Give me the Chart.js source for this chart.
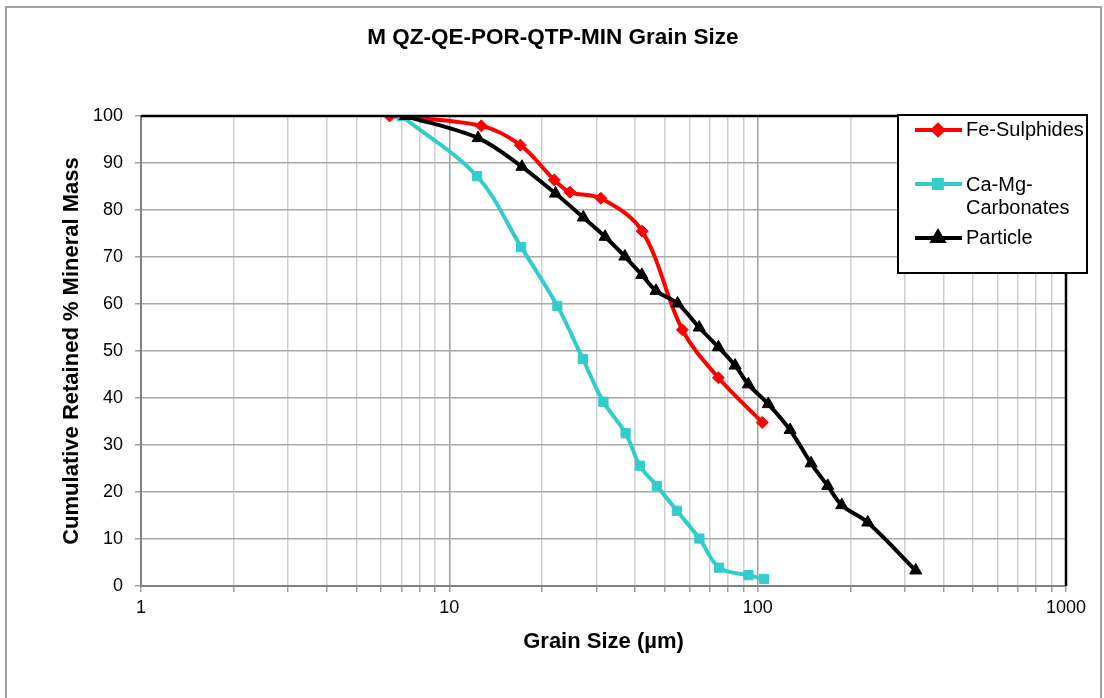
<!DOCTYPE html>
<html>
<head>
<meta charset="utf-8">
<script src="https://cdn.jsdelivr.net/npm/chart.js@4"></script>
<style>
    html, body { margin: 0; padding: 0; background: #ffffff; }
    #grafico { display: block; }
</style>
</head>
<body>
<canvas id="grafico" width="1104" height="698"></canvas>
<script>
// valores (x = tamanho de grão em µm, y = % retida acumulada)
const feSulphidesX = [6.4, 12.7, 17.0, 21.9, 24.6, 31.0, 42.2, 57.0, 74.6, 103.5];
const feSulphidesY = [100, 97.9, 93.8, 86.4, 83.8, 82.5, 75.5, 54.5, 44.3, 34.8];

const carbonatesX = [7.0, 12.3, 17.1, 22.4, 27.1, 31.6, 37.3, 41.5, 47.1, 54.7, 64.7, 75.0, 93.3, 104.9];
const carbonatesY = [100, 87.2, 72.1, 59.6, 48.3, 39.2, 32.5, 25.6, 21.3, 16.0, 10.1, 3.9, 2.3, 1.5];

const particleX = [7.2, 12.4, 17.2, 22.1, 27.2, 32.0, 37.1, 42.1, 46.8, 55.0, 64.6, 74.6, 84.5, 93.3, 108.3, 127.4, 149, 168.8, 187.4, 227.6, 325.6];
const particleY = [100, 95.3, 89.2, 83.5, 78.4, 74.3, 70.1, 66.2, 62.8, 60.1, 55.0, 50.8, 46.9, 42.9, 38.7, 33.2, 26.1, 21.3, 17.2, 13.5, 3.3];

const xTickLabels = [1, 10, 100, 1000];
const yTickLabels = [0, 10, 20, 30, 40, 50, 60, 70, 80, 90, 100];

const titulo = "M QZ-QE-POR-QTP-MIN Grain Size";
const fonte = '"Liberation Sans", Arial, sans-serif';

function pontos(xs, ys) {
    return xs.map((x, i) => ({ x: x, y: ys[i] }));
}

function ehPotencia10(v) {
    const l = Math.log10(v);
    return Math.abs(l - Math.round(l)) < 1e-9;
}

const series = [
    { label: "Fe-Sulphides", cor: "#ff0000", estilo: "rectRot", raio: 6, data: pontos(feSulphidesX, feSulphidesY), ordem: 2 },
    { label: "Ca-Mg-Carbonates", cor: "#33cccc", estilo: "rect", raio: 6.5, data: pontos(carbonatesX, carbonatesY), ordem: 1 },
    { label: "Particle", cor: "#000000", estilo: "triangle", raio: 7, data: pontos(particleX, particleY), ordem: 0 }
];

// moldura externa, fundo e título
const moldura = {
    id: "moldura",
    beforeDraw(chart) {
        const ctx = chart.ctx;
        ctx.save();
        ctx.fillStyle = "#ffffff";
        ctx.fillRect(0, 0, chart.width, chart.height);
        ctx.strokeStyle = "#a0a0a0";
        ctx.lineWidth = 2;
        ctx.strokeRect(6, 7, 1095, 700);

        ctx.fillStyle = "#000000";
        ctx.font = "bold 22.5px " + fonte;
        ctx.textAlign = "center";
        ctx.textBaseline = "middle";
        ctx.fillText(titulo, 553, 38);
        ctx.restore();
    },
    afterDatasetsDraw(chart) {
        // bordas de cima e da direita da área do gráfico
        const { ctx, chartArea: a } = chart;
        ctx.save();
        ctx.strokeStyle = "#000000";
        ctx.lineWidth = 2.5;
        ctx.beginPath();
        ctx.moveTo(a.left, a.top);
        ctx.lineTo(a.right, a.top);
        ctx.lineTo(a.right, a.bottom);
        ctx.stroke();
        ctx.restore();
    }
};

// legenda desenhada à mão, igual à do Excel
const legenda = {
    id: "legenda",
    afterDraw(chart) {
        const ctx = chart.ctx;
        ctx.save();
        ctx.fillStyle = "#ffffff";
        ctx.fillRect(898, 115, 189, 158);
        ctx.strokeStyle = "#000000";
        ctx.lineWidth = 2;
        ctx.strokeRect(898, 115, 189, 158);

        const linhas = [
            { y: 130, textos: [["Fe-Sulphides", 130]] },
            { y: 184, textos: [["Ca-Mg-", 185], ["Carbonates", 208]] },
            { y: 238, textos: [["Particle", 238]] }
        ];
        linhas.forEach((item, i) => {
            const s = series[i];
            ctx.strokeStyle = s.cor;
            ctx.lineWidth = 4;
            ctx.beginPath();
            ctx.moveTo(915, item.y);
            ctx.lineTo(962, item.y);
            ctx.stroke();
            Chart.helpers.drawPoint(ctx, { pointStyle: s.estilo, radius: s.raio - 1, borderWidth: 1 }, 938, item.y);
            ctx.fillStyle = s.cor;
            ctx.fill();
            ctx.fillStyle = "#000000";
            ctx.font = "20px " + fonte;
            ctx.textAlign = "left";
            ctx.textBaseline = "middle";
            item.textos.forEach(t => ctx.fillText(t[0], 966, t[1]));
        });
        ctx.restore();
    }
};

new Chart(document.getElementById("grafico"), {
    type: "line",
    data: {
        datasets: series.map(s => ({
            label: s.label,
            data: s.data,
            borderColor: s.cor,
            backgroundColor: s.cor,
            borderWidth: 4,
            pointStyle: s.estilo,
            pointRadius: s.raio,
            pointBorderWidth: 1,
            pointBorderColor: s.cor,
            pointBackgroundColor: s.cor,
            tension: 0.35,
            fill: false,
            order: s.ordem
        }))
    },
    options: {
        responsive: false,
        animation: false,
        layout: {
            padding: { top: 116, right: 38, left: 0, bottom: 0 }
        },
        plugins: {
            legend: { display: false },
            tooltip: { enabled: false },
            title: { display: false }
        },
        scales: {
            x: {
                type: "logarithmic",
                min: 1,
                max: 1000,
                afterBuildTicks(scale) {
                    const ticks = [];
                    for (let d = 1; d < 1000; d *= 10) {
                        for (let m = 1; m < 10; m++) ticks.push({ value: m * d });
                    }
                    ticks.push({ value: 1000 });
                    scale.ticks = ticks;
                },
                afterFit(scale) {
                    scale.height = 112;
                },
                ticks: {
                    autoSkip: false,
                    maxRotation: 0,
                    color: "#000000",
                    padding: 5,
                    font: { family: fonte, size: 18 },
                    callback: v => (ehPotencia10(v) && xTickLabels.includes(Math.round(v))) ? String(Math.round(v)) : ""
                },
                grid: {
                    color: c => ehPotencia10(c.tick.value) ? "#a0a0a0" : "#cfcfcf",
                    lineWidth: 1.5,
                    tickLength: 6,
                    tickColor: "#a0a0a0"
                },
                border: { color: "#808080", width: 2 },
                title: {
                    display: true,
                    text: "Grain Size (µm)",
                    color: "#000000",
                    font: { family: fonte, size: 22, weight: "bold" },
                    padding: { top: 0, bottom: 43 }
                }
            },
            y: {
                min: 0,
                max: 100,
                afterBuildTicks(scale) {
                    scale.ticks = yTickLabels.map(v => ({ value: v }));
                },
                afterFit(scale) {
                    scale.width = 141;
                },
                ticks: {
                    color: "#000000",
                    padding: 12,
                    font: { family: fonte, size: 18 }
                },
                grid: {
                    color: "#a8a8a8",
                    lineWidth: 1.5,
                    tickLength: 6,
                    tickColor: "#a0a0a0"
                },
                border: { color: "#808080", width: 2 },
                title: {
                    display: true,
                    text: "Cumulative Retained % Mineral Mass",
                    color: "#000000",
                    font: { family: fonte, size: 22, weight: "bold" },
                    padding: { top: 59, bottom: 0 }
                }
            }
        }
    },
    plugins: [moldura, legenda]
});
</script>
</body>
</html>
